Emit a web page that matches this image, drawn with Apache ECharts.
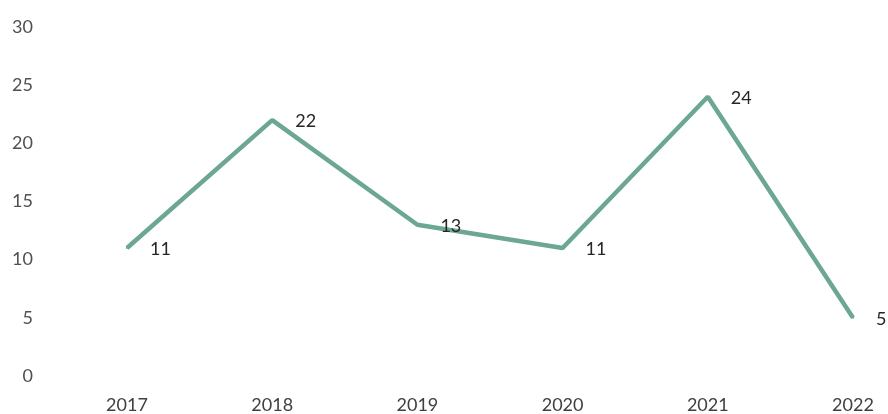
<!DOCTYPE html>
<html><head><meta charset="utf-8">
<script src="https://cdn.jsdelivr.net/npm/echarts@6/dist/echarts.min.js"></script>
<style>html,body{margin:0;padding:0;background:#fff}#c{width:888px;height:414px}</style>
</head><body><div id="c"></div>
<script>
const categories = ['2017','2018','2019','2020','2021','2022'];
const values = [11, 22, 13, 11, 24, 5];
const yTicks = [0, 5, 10, 15, 20, 25, 30];

const FONT = 'Lato, "Open Sans", sans-serif';
const chart = echarts.init(document.getElementById('c'), null, {renderer:'canvas'});
chart.setOption({
  animation: false,
  backgroundColor: '#fff',
  grid: {left: 127, right: 35, top: 27, bottom: 36},
  xAxis: {
    type: 'category', data: categories, boundaryGap: false,
    axisLine: {show: false}, axisTick: {show: false},
    axisLabel: {color: '#404040', fontSize: 18, fontFamily: FONT, margin: 20}
  },
  yAxis: {
    type: 'value', min: yTicks[0], max: yTicks[yTicks.length-1], interval: 5,
    splitLine: {show: false}, axisLine: {show: false}, axisTick: {show: false},
    axisLabel: {color: '#505050', fontSize: 18, fontFamily: FONT, margin: 94}
  },
  series: [{
    type: 'line', data: values, symbol: 'circle', symbolSize: 2, showSymbol: true,
    itemStyle: {color: '#6ba792'},
    lineStyle: {color: '#6ba792', width: 4.5},
    label: {show: true, position: 'right', distance: 22, offset: [0, 1],
      color: '#262626', fontSize: 18, fontFamily: FONT}
  }]
});
</script></body></html>
